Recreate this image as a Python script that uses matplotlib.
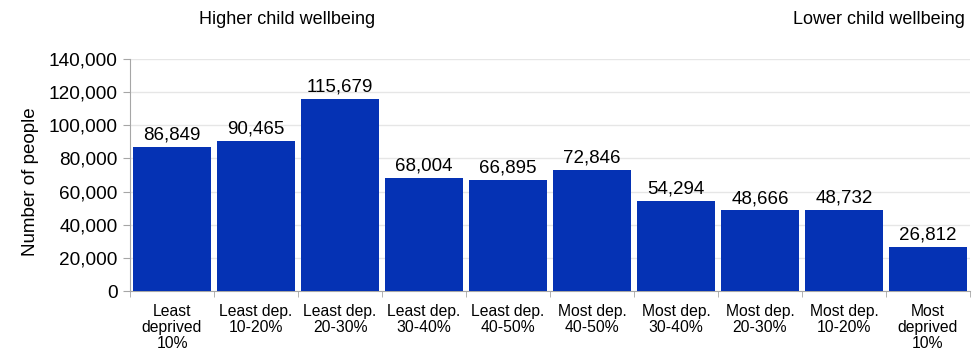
import matplotlib
matplotlib.use("Agg")
import matplotlib.pyplot as plt
import numpy as np

categories = ["Least\ndeprived\n10%", "Least dep.\n10-20%", "Least dep.\n20-30%", "Least dep.\n30-40%",
              "Least dep.\n40-50%", "Most dep.\n40-50%", "Most dep.\n30-40%", "Most dep.\n20-30%",
              "Most dep.\n10-20%", "Most\ndeprived\n10%"]
values = [86849, 90465, 115679, 68004, 66895, 72846, 54294, 48666, 48732, 26812]
yticks = [0, 20000, 40000, 60000, 80000, 100000, 120000, 140000]

plt.rcParams['font.family'] = ['Liberation Sans', 'DejaVu Sans']
fig = plt.figure(figsize=(9.8, 3.53), dpi=100)
ax = fig.add_axes([0.1327, 0.1756, 0.857, 0.6573])
x = np.arange(len(values))
ax.bar(x, values, width=0.935, color='#0532b4', zorder=3)
for xi, v in zip(x, values):
    ax.text(xi, v + 2000, f"{v:,}", ha='center', va='bottom', fontsize=13.5, color='black')
ax.set_xlim(-0.5, len(values) - 0.5)
ax.set_ylim(0, 140000)
ax.set_yticks(yticks)
ax.set_yticklabels([f"{t:,}" for t in yticks], fontsize=13.7)
ax.set_xticks(x)
ax.set_xticklabels(categories, fontsize=11.3, linespacing=1.12)
ax.set_xticks(np.arange(-0.5, len(values)), minor=True)
ax.tick_params(axis='x', which='major', length=0, pad=9)
ax.tick_params(axis='x', which='minor', length=4, color='#a6a6a6')
ax.tick_params(axis='y', length=5, color='#a6a6a6', pad=4)
ax.yaxis.grid(True, color='#e6e6e6', linewidth=1, zorder=0)
for s in ['top', 'right']:
    ax.spines[s].set_visible(False)
for s in ['left', 'bottom']:
    ax.spines[s].set_color('#a6a6a6')
ax.set_ylabel("Number of people", fontsize=13.5)
ax.yaxis.set_label_coords(-0.108, 0.47)
fig.text(0.293, 0.945, "Higher child wellbeing", ha='center', va='center', fontsize=13)
fig.text(0.985, 0.945, "Lower child wellbeing", ha='right', va='center', fontsize=13)
fig.savefig("out.png", dpi=100)
